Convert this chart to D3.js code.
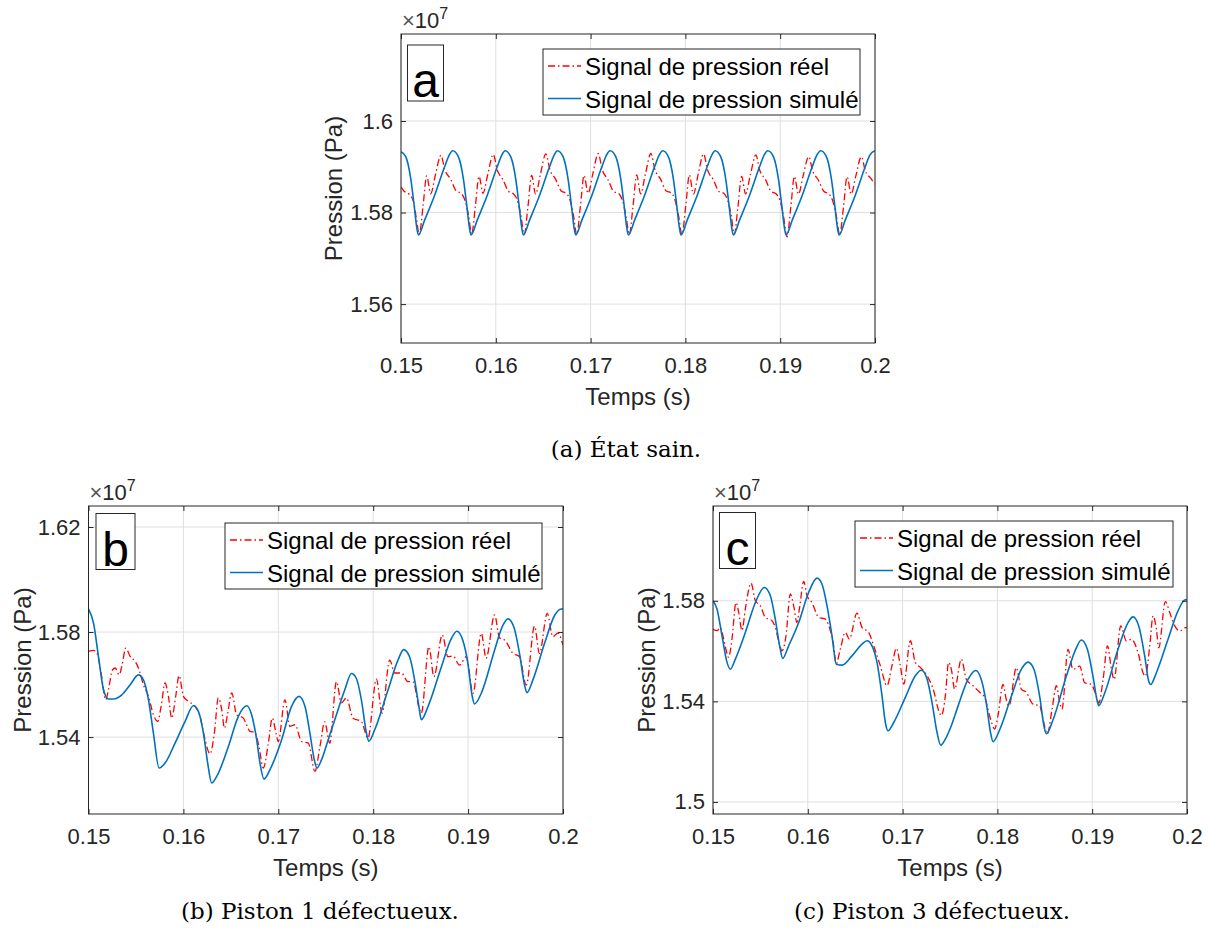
<!DOCTYPE html>
<html><head><meta charset="utf-8">
<script src="https://cdn.jsdelivr.net/npm/d3@7"></script>
<style>
body{margin:0;background:#fff}
svg{display:block}
text{font-family:"Liberation Sans",Arial,sans-serif;fill:#262626}
.cap{font-family:"DejaVu Serif","Liberation Serif",serif;fill:#000}
</style>
</head><body>
<svg id="chart" width="1208" height="936"></svg>
<script>
// ---------- data (time in s, pressure in 1e7 Pa) ----------
const xTicks = [0.15, 0.16, 0.17, 0.18, 0.19, 0.2];
const xTickLabels = ["0.15", "0.16", "0.17", "0.18", "0.19", "0.2"];
const aYTicks = [1.56, 1.58, 1.6];
const aYTickLabels = ["1.56", "1.58", "1.6"];
const bYTicks = [1.54, 1.58, 1.62];
const bYTickLabels = ["1.54", "1.58", "1.62"];
const cYTicks = [1.5, 1.54, 1.58];
const cYTickLabels = ["1.5", "1.54", "1.58"];
const seriesNames = ["Signal de pression réel", "Signal de pression simulé"];
const panelTags = ["a", "b", "c"];
const captions = ["(a) État sain.", "(b) Piston 1 défectueux.", "(c) Piston 3 défectueux."];

const aSim = [
[0.1500,1.5933],
[0.1505,1.5922],[0.15105,1.5871],[0.1514,1.5813],[0.15165,1.5769],[0.15183,1.5751],[0.1525,1.5784],[0.1535,1.5835],[0.1546,1.5900],[0.1551,1.5926],
[0.15545,1.5935],[0.15605,1.5922],[0.1566,1.5871],[0.15695,1.5813],[0.1572,1.5769],[0.15738,1.5751],[0.15805,1.5784],[0.15905,1.5835],[0.16015,1.5900],[0.16065,1.5926],
[0.16097,1.5935],[0.16157,1.5922],[0.16212,1.5871],[0.16247,1.5813],[0.16272,1.5769],[0.1629,1.5751],[0.16357,1.5784],[0.16457,1.5835],[0.16567,1.5900],[0.16617,1.5926],
[0.16649,1.5935],[0.16709,1.5922],[0.16764,1.5871],[0.16799,1.5813],[0.16824,1.5769],[0.16843,1.5751],[0.16909,1.5784],[0.17009,1.5835],[0.17119,1.5900],[0.17169,1.5926],
[0.17205,1.5935],[0.17265,1.5922],[0.1732,1.5871],[0.17355,1.5813],[0.1738,1.5769],[0.17398,1.5751],[0.17465,1.5784],[0.17565,1.5835],[0.17675,1.5900],[0.17725,1.5926],
[0.1776,1.5935],[0.1782,1.5922],[0.17875,1.5871],[0.1791,1.5813],[0.17935,1.5769],[0.17954,1.5751],[0.1802,1.5784],[0.1812,1.5835],[0.1823,1.5900],[0.1828,1.5926],
[0.18312,1.5935],[0.18372,1.5922],[0.18427,1.5871],[0.18462,1.5813],[0.18487,1.5769],[0.18505,1.5751],[0.18572,1.5784],[0.18672,1.5835],[0.18782,1.5900],[0.18832,1.5926],
[0.18868,1.5935],[0.18928,1.5922],[0.18983,1.5871],[0.19018,1.5813],[0.19043,1.5769],[0.19062,1.5751],[0.19128,1.5784],[0.19228,1.5835],[0.19338,1.5900],[0.19388,1.5926],
[0.19427,1.5935],[0.19487,1.5922],[0.19542,1.5871],[0.19577,1.5813],[0.19602,1.5769],[0.19621,1.5751],[0.19687,1.5784],[0.19787,1.5835],[0.19897,1.5900],[0.19947,1.5926],[0.2,1.5935]
];

const aReal = [
[0.15,1.5856],[0.1503,1.5847],[0.1508,1.5841],[0.1513,1.5825],[0.1516,1.5790],
[0.15193,1.5752],[0.15233,1.5815],[0.15271,1.5880],[0.15313,1.5841],[0.15363,1.5882],[0.15421,1.5925],[0.15463,1.5893],[0.15523,1.5873],[0.15583,1.5847],[0.15633,1.5842],[0.15673,1.5828],[0.15713,1.5793],
[0.15745,1.5752],[0.15785,1.5815],[0.15823,1.5879],[0.15865,1.5842],[0.15915,1.5883],[0.15973,1.5927],[0.16015,1.5893],[0.16075,1.5872],[0.16135,1.5846],[0.16185,1.5841],[0.16225,1.5828],[0.16265,1.5793],
[0.163,1.5752],[0.1634,1.5815],[0.16378,1.5881],[0.1642,1.5840],[0.1647,1.5883],[0.16528,1.5928],[0.1657,1.5894],[0.1663,1.5873],[0.1669,1.5847],[0.1674,1.5842],[0.1678,1.5829],[0.1682,1.5793],
[0.16853,1.5752],[0.16893,1.5815],[0.16931,1.5881],[0.16973,1.5842],[0.17023,1.5884],[0.17081,1.5929],[0.17123,1.5893],[0.17183,1.5872],[0.17243,1.5846],[0.17293,1.5842],[0.17333,1.5828],[0.17373,1.5793],
[0.17408,1.5752],[0.17448,1.5815],[0.17486,1.5882],[0.17528,1.5841],[0.17578,1.5884],[0.17636,1.5929],[0.17678,1.5894],[0.17738,1.5873],[0.17798,1.5847],[0.17848,1.5843],[0.17888,1.5829],[0.17928,1.5793],
[0.17964,1.5752],[0.18004,1.5815],[0.18042,1.5882],[0.18084,1.5840],[0.18134,1.5883],[0.18192,1.5928],[0.18234,1.5893],[0.18294,1.5872],[0.18354,1.5846],[0.18404,1.5842],[0.18444,1.5828],[0.18484,1.5793],
[0.18515,1.5752],[0.18555,1.5814],[0.18593,1.5879],[0.18635,1.5841],[0.18685,1.5882],[0.18743,1.5926],[0.18785,1.5892],[0.18845,1.5872],[0.18905,1.5846],[0.18955,1.5841],[0.18995,1.5828],[0.19035,1.5792],
[0.19072,1.5747],[0.19112,1.5812],[0.1915,1.5879],[0.19192,1.5840],[0.19242,1.5880],[0.193,1.5922],[0.19342,1.5891],[0.19402,1.5871],[0.19462,1.5846],[0.19512,1.5841],[0.19552,1.5827],[0.19592,1.5792],
[0.19628,1.5751],[0.19668,1.5813],[0.19706,1.5878],[0.19748,1.5840],[0.19798,1.5880],[0.19856,1.5922],[0.19898,1.5891],[0.19958,1.5874],[0.2,1.5862]
];

const bSim = [
[0.15,1.5888],[0.15053,1.5834],[0.15105,1.5707],[0.15158,1.558],[0.1521,1.5545],[0.15263,1.5545],[0.15351,1.5561],[0.15439,1.5599],[0.15526,1.5637],[0.15579,1.5618],[0.15632,1.5542],[0.15684,1.5415],[0.15744,1.5282],[0.15807,1.5301],[0.15912,1.5377],[0.16018,1.546],[0.16105,1.5519],[0.16158,1.5498],[0.16211,1.5415],[0.16256,1.5301],[0.16298,1.5225],[0.16351,1.525],[0.16474,1.5364],[0.16579,1.5479],[0.16667,1.5519],[0.16719,1.5485],[0.16772,1.539],[0.16807,1.5301],[0.16849,1.524],[0.16912,1.5276],[0.17035,1.539],[0.1714,1.5517],[0.17218,1.5555],[0.17281,1.5517],[0.17333,1.5415],[0.17379,1.5314],[0.17407,1.5282],[0.17456,1.5314],[0.17526,1.539],[0.17595,1.5466],[0.177,1.5579],[0.17771,1.5642],[0.17823,1.5623],[0.17876,1.5541],[0.17929,1.5415],[0.17953,1.5384],[0.18016,1.5428],[0.18156,1.5579],[0.18261,1.5693],[0.18321,1.5733],[0.18384,1.5705],[0.18437,1.5617],[0.18482,1.5516],[0.18507,1.5466],[0.18577,1.5516],[0.18718,1.5667],[0.18823,1.5775],[0.18882,1.5803],[0.18945,1.5768],[0.18998,1.568],[0.19044,1.5554],[0.19068,1.5526],[0.19139,1.5567],[0.19279,1.5731],[0.19366,1.5825],[0.19419,1.585],[0.19482,1.5819],[0.19542,1.5718],[0.19595,1.5598],[0.19619,1.5569],[0.19682,1.5617],[0.19805,1.5756],[0.19911,1.5863],[0.19981,1.5888],[0.2,1.5888]
];

const bReal = [
[0.15,1.5726],[0.15053,1.573],[0.15088,1.572],[0.15133,1.5644],[0.15182,1.5542],[0.1521,1.558],[0.15253,1.5656],[0.15281,1.5663],[0.15323,1.5637],[0.15351,1.5669],[0.15393,1.5739],[0.15439,1.5707],[0.15491,1.5688],[0.15526,1.5663],[0.15579,1.5599],[0.15632,1.5555],[0.15684,1.5485],[0.1573,1.546],[0.15765,1.5517],[0.15807,1.5606],[0.15842,1.5555],[0.15877,1.5472],[0.15919,1.5555],[0.15954,1.5634],[0.16,1.5555],[0.16053,1.5536],[0.16123,1.5517],[0.16175,1.5479],[0.16228,1.539],[0.16281,1.5336],[0.16326,1.5415],[0.16368,1.5549],[0.16404,1.5504],[0.16432,1.5434],[0.16467,1.5491],[0.16509,1.5568],[0.16561,1.5485],[0.16632,1.5472],[0.16702,1.5422],[0.16754,1.5418],[0.16796,1.5364],[0.16842,1.5282],[0.16895,1.5377],[0.16937,1.5472],[0.16972,1.5422],[0.17,1.5383],[0.1707,1.5542],[0.17123,1.5441],[0.17175,1.5447],[0.17246,1.5383],[0.17316,1.5377],[0.17386,1.5269],[0.17439,1.5364],[0.17489,1.5458],[0.17542,1.5377],[0.17613,1.5611],[0.17665,1.553],[0.17718,1.5549],[0.17787,1.5472],[0.17876,1.5459],[0.17945,1.5396],[0.18034,1.5621],[0.18093,1.5491],[0.18174,1.5693],[0.18226,1.5644],[0.18297,1.5644],[0.18366,1.5611],[0.18419,1.5611],[0.18489,1.5503],[0.18507,1.5491],[0.18587,1.5744],[0.1864,1.563],[0.18728,1.5789],[0.18787,1.5706],[0.1884,1.5709],[0.1891,1.5674],[0.18981,1.5706],[0.19051,1.5566],[0.19139,1.5795],[0.1919,1.57],[0.19279,1.5865],[0.19332,1.5777],[0.19384,1.577],[0.19472,1.5719],[0.19542,1.5706],[0.19613,1.5598],[0.197,1.5822],[0.19752,1.5718],[0.19834,1.5871],[0.19893,1.5782],[0.19945,1.5796],[0.2,1.575]
];

const cSim = [
[0.15,1.58],[0.15042,1.5767],[0.15095,1.5661],[0.15148,1.5555],[0.15183,1.5528],[0.15236,1.5568],[0.15341,1.5674],[0.15447,1.5793],[0.15541,1.5853],[0.15605,1.582],[0.15657,1.5727],[0.15703,1.5621],[0.15735,1.5571],[0.15798,1.5621],[0.15904,1.5714],[0.16009,1.5833],[0.16097,1.589],[0.1615,1.5866],[0.16203,1.578],[0.16255,1.5661],[0.16301,1.5548],[0.16361,1.5544],[0.16466,1.5581],[0.16572,1.5628],[0.16625,1.5641],[0.16677,1.5621],[0.1673,1.5555],[0.16783,1.5422],[0.16818,1.5316],[0.16846,1.5283],[0.16906,1.5316],[0.17029,1.5416],[0.17134,1.5502],[0.17198,1.5524],[0.17258,1.5489],[0.1731,1.5396],[0.17363,1.5277],[0.17402,1.5226],[0.17451,1.525],[0.17514,1.5303],[0.17584,1.538],[0.1769,1.5487],[0.17771,1.5523],[0.1783,1.5487],[0.17883,1.5393],[0.17929,1.5273],[0.17954,1.524],[0.18024,1.5287],[0.18147,1.542],[0.18252,1.5527],[0.18323,1.5556],[0.18386,1.5527],[0.18446,1.542],[0.18492,1.53],[0.18516,1.5271],[0.18587,1.5327],[0.18727,1.55],[0.18833,1.5613],[0.18885,1.5644],[0.18949,1.5607],[0.19008,1.55],[0.19054,1.54],[0.19069,1.5383],[0.19132,1.5433],[0.19272,1.5607],[0.19378,1.5713],[0.1943,1.5736],[0.19491,1.57],[0.19554,1.558],[0.19596,1.548],[0.19617,1.5467],[0.19676,1.5513],[0.198,1.5647],[0.19905,1.576],[0.19982,1.5804],[0.2,1.5804]
];

const cReal = [
[0.15,1.5687],[0.15042,1.5681],[0.15077,1.5694],[0.15113,1.5648],[0.15165,1.5575],[0.152,1.5648],[0.15243,1.5793],[0.15271,1.5754],[0.15306,1.5681],[0.15341,1.5767],[0.15401,1.587],[0.15447,1.58],[0.155,1.578],[0.15552,1.5734],[0.15622,1.5721],[0.15657,1.5694],[0.157,1.5628],[0.15728,1.5601],[0.1577,1.5661],[0.15816,1.5827],[0.15851,1.578],[0.15886,1.5714],[0.15911,1.5767],[0.15957,1.5877],[0.15992,1.582],[0.16044,1.5793],[0.16115,1.5734],[0.16185,1.5727],[0.16238,1.5681],[0.16273,1.5621],[0.16298,1.5548],[0.16343,1.5608],[0.16396,1.5674],[0.16438,1.5648],[0.16519,1.5751],[0.16572,1.5694],[0.16642,1.5674],[0.16695,1.5621],[0.16765,1.5542],[0.16836,1.5462],[0.16888,1.5542],[0.16934,1.5611],[0.16976,1.5542],[0.17012,1.5469],[0.17082,1.5641],[0.17134,1.5555],[0.17187,1.5535],[0.17258,1.5502],[0.17328,1.5442],[0.17381,1.5363],[0.17409,1.5343],[0.17451,1.5422],[0.17485,1.5555],[0.17514,1.5528],[0.17549,1.5449],[0.1762,1.5568],[0.17672,1.5488],[0.17743,1.5462],[0.17813,1.5436],[0.17866,1.5416],[0.17918,1.5343],[0.17971,1.529],[0.18006,1.5343],[0.18059,1.5467],[0.18094,1.5407],[0.18122,1.5382],[0.182,1.5534],[0.18252,1.5449],[0.18305,1.5436],[0.18375,1.5389],[0.18446,1.5382],[0.18481,1.5329],[0.18527,1.5271],[0.18576,1.5367],[0.18622,1.5462],[0.18657,1.5396],[0.18681,1.5369],[0.18745,1.5607],[0.18797,1.5527],[0.18868,1.554],[0.18921,1.5474],[0.18991,1.5467],[0.19044,1.542],[0.19069,1.5393],[0.19115,1.5487],[0.19161,1.5621],[0.19203,1.5527],[0.19231,1.5487],[0.19301,1.57],[0.19361,1.564],[0.19414,1.5647],[0.19484,1.5593],[0.19537,1.5513],[0.19561,1.55],[0.19607,1.562],[0.19642,1.574],[0.19677,1.5687],[0.19702,1.5613],[0.19772,1.5797],[0.19818,1.5753],[0.19871,1.57],[0.19924,1.568],[0.19984,1.5693],[0.2,1.5693]
];

// ---------- layout ----------
const COL_REAL = "#FF0000", COL_SIM = "#0072BD", AX = "#262626", GRID = "#dfdfdf";
const DASH = "7,3,1.5,3";
const panels = [
  {real: aReal, sim: aSim, yTicks: aYTicks, yLabels: aYTickLabels, x0: 401, x1: 875, y0: 34, y1: 343,
   yDomain: [1.5515, 1.619], legend: {x: 543, y: 49, w: 317, h: 66}, tag: {x: 407.5, y: 45, w: 36, h: 56},
   ylabX: 333, capX: 626, capY: 457},
  {real: bReal, sim: bSim, yTicks: bYTicks, yLabels: bYTickLabels, x0: 88.5, x1: 563, y0: 506, y1: 814,
   yDomain: [1.5107, 1.628], legend: {x: 225, y: 523, w: 317, h: 66}, tag: {x: 96, y: 513.5, w: 39, h: 56},
   ylabX: 22, capX: 320, capY: 919},
  {real: cReal, sim: cSim, yTicks: cYTicks, yLabels: cYTickLabels, x0: 713, x1: 1187, y0: 506, y1: 814,
   yDomain: [1.4952, 1.6177], legend: {x: 855, y: 521, w: 318, h: 66}, tag: {x: 719.5, y: 512.5, w: 36, h: 56},
   ylabX: 646, capX: 932, capY: 919}
];

const svg = d3.select("#chart");

panels.forEach((p, i) => {
  const x = d3.scaleLinear().domain([xTicks[0], xTicks[xTicks.length - 1]]).range([p.x0, p.x1]);
  const y = d3.scaleLinear().domain(p.yDomain).range([p.y1, p.y0]);
  const g = svg.append("g");

  // grid
  g.append("g").selectAll("line").data(xTicks).join("line")
    .attr("x1", d => x(d)).attr("x2", d => x(d)).attr("y1", p.y0).attr("y2", p.y1)
    .attr("stroke", GRID).attr("stroke-width", 1);
  g.append("g").selectAll("line").data(p.yTicks).join("line")
    .attr("x1", p.x0).attr("x2", p.x1).attr("y1", d => y(d)).attr("y2", d => y(d))
    .attr("stroke", GRID).attr("stroke-width", 1);

  // clip
  const cid = "clip" + i;
  svg.append("clipPath").attr("id", cid).append("rect")
    .attr("x", p.x0).attr("y", p.y0).attr("width", p.x1 - p.x0).attr("height", p.y1 - p.y0);

  const line = d3.line().x(d => x(d[0])).y(d => y(d[1])).curve(d3.curveMonotoneX);
  const lg = g.append("g").attr("clip-path", `url(#${cid})`);
  lg.append("path").attr("d", line(p.real)).attr("fill", "none")
    .attr("stroke", COL_REAL).attr("stroke-width", 1.3).attr("stroke-dasharray", DASH);
  lg.append("path").attr("d", line(p.sim)).attr("fill", "none")
    .attr("stroke", COL_SIM).attr("stroke-width", 1.6);

  // axes (ticks inside)
  const fmtX = (d) => xTickLabels[xTicks.indexOf(d)];
  const fmtY = (d) => p.yLabels[p.yTicks.indexOf(d)];
  const styleAxis = (sel) => {
    sel.select(".domain").remove();
    sel.selectAll(".tick line").attr("stroke", AX);
    sel.selectAll(".tick text").attr("fill", AX).style("font-size", "22px")
      .style("font-family", '"Liberation Sans", Arial, sans-serif');
  };
  g.append("g").attr("transform", `translate(0,${p.y1})`)
    .call(d3.axisBottom(x).tickValues(xTicks).tickFormat(fmtX).tickSize(-5).tickPadding(14)).call(styleAxis);
  g.append("g").attr("transform", `translate(0,${p.y0})`)
    .call(d3.axisTop(x).tickValues(xTicks).tickFormat("").tickSize(-5)).call(styleAxis);
  g.append("g").attr("transform", `translate(${p.x0},0)`)
    .call(d3.axisLeft(y).tickValues(p.yTicks).tickFormat(fmtY).tickSize(-5).tickPadding(8)).call(styleAxis);
  g.append("g").attr("transform", `translate(${p.x1},0)`)
    .call(d3.axisRight(y).tickValues(p.yTicks).tickFormat("").tickSize(-5)).call(styleAxis);

  // box
  g.append("rect").attr("x", p.x0).attr("y", p.y0).attr("width", p.x1 - p.x0).attr("height", p.y1 - p.y0)
    .attr("fill", "none").attr("stroke", AX).attr("stroke-width", 1);

  // exponent
  const ex = g.append("text").attr("x", p.x0 + 1).attr("y", p.y0 - 6).style("font-size", "22px");
  ex.append("tspan").style("fill", "#555").text("×");
  ex.append("tspan").text("10");
  ex.append("tspan").attr("dy", -9).style("font-size", "16px").text("7");

  // axis labels
  g.append("text").attr("x", (p.x0 + p.x1) / 2).attr("y", p.y1 + 62).attr("text-anchor", "middle")
    .style("font-size", "24px").text("Temps (s)");
  g.append("text").attr("transform", `translate(${p.ylabX},${(p.y0 + p.y1) / 2}) rotate(-90)`)
    .attr("text-anchor", "middle").attr("dominant-baseline", "central")
    .style("font-size", "24px").text("Pression (Pa)");

  // legend
  const L = p.legend;
  const lgd = g.append("g");
  lgd.append("rect").attr("x", L.x).attr("y", L.y).attr("width", L.w).attr("height", L.h)
    .attr("fill", "#fff").attr("stroke", AX).attr("stroke-width", 1);
  const rows = [{name: seriesNames[0], col: COL_REAL, dash: DASH, w: 1.3},
                {name: seriesNames[1], col: COL_SIM, dash: null, w: 1.6}];
  rows.forEach((r, k) => {
    const ry = L.y + 17 + k * 32.5;
    lgd.append("line").attr("x1", L.x + 5).attr("x2", L.x + 38).attr("y1", ry).attr("y2", ry)
      .attr("stroke", r.col).attr("stroke-width", r.w).attr("stroke-dasharray", r.dash);
    lgd.append("text").attr("x", L.x + 42).attr("y", ry + 9).style("font-size", "24px")
      .style("fill", "#000").text(r.name);
  });

  // panel tag
  const T = p.tag;
  g.append("rect").attr("x", T.x).attr("y", T.y).attr("width", T.w).attr("height", T.h)
    .attr("fill", "#fff").attr("stroke", AX).attr("stroke-width", 1);
  g.append("text").attr("x", T.x + T.w / 2).attr("y", T.y + T.h - 4).attr("text-anchor", "middle")
    .style("font-size", "48px").style("fill", "#000").text(panelTags[i]);

  // caption
  svg.append("text").attr("class", "cap").attr("x", p.capX).attr("y", p.capY)
    .attr("text-anchor", "middle").style("font-size", "23px").text(captions[i]);
});
</script>
</body></html>
